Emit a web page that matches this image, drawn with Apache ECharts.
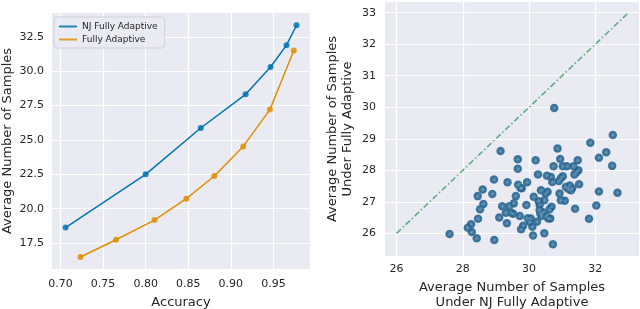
<!DOCTYPE html>
<html><head><meta charset="utf-8">
<script src="https://cdn.jsdelivr.net/npm/echarts@6/dist/echarts.min.js"></script>
<style>html,body{margin:0;padding:0;background:#fff}#c{width:640px;height:309px}</style>
</head><body><div id="c"></div>
<script>
// Left panel: accuracy vs average number of samples
const njAccuracy = [0.7059, 0.800, 0.8647, 0.9174, 0.9467, 0.9654, 0.9772];
const njSamplesCurve = [18.63, 22.5, 25.87, 28.32, 30.31, 31.9, 33.35];
const faAccuracy = [0.7234, 0.7652, 0.8104, 0.8478, 0.8807, 0.9146, 0.9459, 0.974];
const faSamplesCurve = [16.48, 17.74, 19.17, 20.73, 22.38, 24.53, 27.21, 31.51];
const leftXTicks = [0.70, 0.75, 0.80, 0.85, 0.90, 0.95];
const leftYTicks = [17.5, 20.0, 22.5, 25.0, 27.5, 30.0, 32.5];

// Right panel: scatter (x = NJ Fully Adaptive, y = Fully Adaptive)
const scatterNJ = [27.6, 28.15, 28.25, 28.27, 28.42, 28.46, 28.52, 28.45, 28.6, 28.62, 28.89, 28.94, 28.95, 29.1, 29.19, 29.3, 29.33, 29.35, 29.4, 29.46, 29.54, 29.6, 29.52, 29.66, 29.66, 29.67, 29.72, 29.74, 29.78, 29.76, 29.82, 29.92, 29.94, 29.96, 30.02, 30.05, 30.1, 30.12, 30.14, 30.2, 30.24, 30.27, 30.29, 30.32, 30.34, 30.32, 30.36, 30.38, 30.42, 30.46, 30.46, 30.5, 30.52, 30.54, 30.56, 30.58, 30.62, 30.64, 30.66, 30.68, 30.7, 30.72, 30.74, 30.86, 30.9, 30.92, 30.94, 30.96, 30.96, 31.02, 31.02, 31.08, 31.11, 31.14, 31.19, 31.23, 31.27, 31.3, 31.34, 31.37, 31.39, 31.43, 31.49, 31.47, 31.51, 31.81, 32.03, 32.11, 32.11, 32.33, 32.51, 32.67, 29.14, 31.85, 32.53, 30.76];
const scatterFA = [25.98, 26.18, 26.29, 26.04, 25.84, 26.46, 26.76, 27.18, 27.39, 26.93, 27.25, 27.71, 25.79, 26.5, 26.86, 26.65, 26.32, 27.62, 26.86, 26.65, 26.95, 27.18, 26.62, 28.05, 28.35, 27.54, 26.55, 27.44, 27.43, 26.13, 26.24, 26.9, 27.62, 26.48, 26.37, 26.47, 26.21, 25.93, 27.16, 28.32, 26.37, 27.87, 27.02, 26.74, 26.63, 26.9, 27.37, 26.55, 26.67, 26.0, 27.05, 27.26, 26.55, 27.83, 27.32, 26.47, 26.76, 26.47, 27.79, 26.84, 27.63, 25.65, 28.13, 28.69, 27.66, 27.26, 28.36, 27.05, 27.75, 28.13, 27.81, 27.03, 27.47, 28.13, 27.41, 27.52, 27.37, 27.43, 28.13, 27.87, 26.78, 27.94, 28.0, 28.32, 27.56, 26.46, 26.88, 27.33, 28.4, 28.57, 28.14, 27.29, 28.61, 28.87, 29.12, 29.98];
const diagonal = [26, 33];
const rightXTicks = [26, 28, 30, 32];
const rightYTicks = [26, 27, 28, 29, 30, 31, 32, 33];

const FONT = 'DejaVu Sans';
const TXT = '#262626';
const STAR = 'path://M4.6,0h0.8v3.6l2.6-2.6l0.6,0.6l-2.6,2.6H10v0.8H6.4l2.6,2.6l-0.6,0.6L5.4,6.4V10H4.6V6.4L2,9L1.4,8.4L4,5.8H0V5h4L1.4,2.4L2,1.8l2.6,2.6z';
const chart = echarts.init(document.getElementById('c'), null, {renderer: 'canvas'});

function valueAxis(gridIndex, min, max, ticks, fmt, name, nameGap, margin) {
  return {
    type: 'value', gridIndex, min, max,
    name, nameLocation: 'middle', nameGap,
    nameTextStyle: {fontFamily: FONT, fontSize: 13, color: TXT, lineHeight: 15},
    axisLine: {show: false},
    axisTick: {show: false, customValues: ticks},
    axisLabel: {customValues: ticks, formatter: fmt, fontFamily: FONT, fontSize: 11, color: TXT, margin},
    splitLine: {show: false}
  };
}

// white grid lines drawn at the tick values
function gridLines(xIdx, yIdx, xTicks, yTicks) {
  return {
    type: 'line', xAxisIndex: xIdx, yAxisIndex: yIdx, data: [], z: 1, silent: true,
    markLine: {
      z: 1, silent: true, symbol: 'none', animation: false,
      label: {show: false},
      lineStyle: {color: '#ffffff', width: 1.2, type: 'solid'},
      emphasis: {disabled: true},
      data: xTicks.map(v => ({xAxis: v})).concat(yTicks.map(v => ({yAxis: v})))
    }
  };
}

const scatterPts = scatterNJ.map((x, i) => [x, scatterFA[i]]);

const option = {
  animation: false,
  backgroundColor: '#ffffff',
  grid: [
    {left: 52, right: 330, top: 13, bottom: 40, backgroundColor: '#EAEAF2', show: true, borderWidth: 0, outerBoundsMode: 'none', containLabel: false},
    {left: 385, right: 1, top: 2, bottom: 53, backgroundColor: '#EAEAF2', show: true, borderWidth: 0, outerBoundsMode: 'none', containLabel: false}
  ],
  xAxis: [
    valueAxis(0, 0.690, 0.993, leftXTicks, v => v.toFixed(2), 'Accuracy', 26, 10),
    valueAxis(1, 25.65, 33.32, rightXTicks, v => String(v), 'Average Number of Samples\nUnder NJ Fully Adaptive', 22, 8)
  ],
  yAxis: [
    valueAxis(0, 15.61, 34.24, leftYTicks, v => v.toFixed(1), 'Average Number of Samples', 37, 8),
    valueAxis(1, 25.28, 33.34, rightYTicks, v => String(v), 'Average Number of Samples\nUnder Fully Adaptive', 30, 9)
  ],
  legend: {
    show: true, left: 54, top: 17, orient: 'vertical', itemGap: 4, z: 10,
    itemWidth: 18, itemHeight: 2, icon: 'rect',
    padding: [5, 7, 4, 5],
    backgroundColor: 'rgba(234,234,242,0.85)', borderColor: '#d0d0d8', borderWidth: 1, borderRadius: 3,
    textStyle: {fontFamily: FONT, fontSize: 9, color: TXT},
    data: ['NJ Fully Adaptive', 'Fully Adaptive']
  },
  series: [
    gridLines(0, 0, leftXTicks, leftYTicks),
    gridLines(1, 1, rightXTicks, rightYTicks),
    {name: 'NJ Fully Adaptive', type: 'line', xAxisIndex: 0, yAxisIndex: 0, z: 3,
     data: njAccuracy.map((a, i) => [a, njSamplesCurve[i]]),
     symbol: 'circle', symbolSize: 6, color: '#0173b2', lineStyle: {width: 1.5}, itemStyle: {opacity: 0.85}},
    {name: 'Fully Adaptive', type: 'line', xAxisIndex: 0, yAxisIndex: 0, z: 3,
     data: faAccuracy.map((a, i) => [a, faSamplesCurve[i]]),
     symbol: 'circle', symbolSize: 6, color: '#de8f05', lineStyle: {width: 1.5}, itemStyle: {opacity: 0.85}},
    {name: 'diag', type: 'line', xAxisIndex: 1, yAxisIndex: 1, z: 3,
     data: diagonal.map(v => [v, v]), symbol: 'none', color: '#62ad80',
     lineStyle: {width: 1.6, type: [6, 2.5, 1.5, 2.5]}},
    {name: 'scatter', type: 'scatter', xAxisIndex: 1, yAxisIndex: 1, z: 4,
     data: scatterPts, symbol: 'circle', symbolSize: 8.5,
     itemStyle: {color: '#1d5f8c', opacity: 0.88, borderColor: 'rgba(255,255,255,0.3)', borderWidth: 0.5}},
    {name: 'scatterStar', type: 'scatter', xAxisIndex: 1, yAxisIndex: 1, z: 5, silent: true,
     data: scatterPts, symbol: STAR, symbolSize: 5,
     itemStyle: {color: '#ffffff', opacity: 0.3}}
  ]
};
chart.setOption(option);
</script></body></html>
